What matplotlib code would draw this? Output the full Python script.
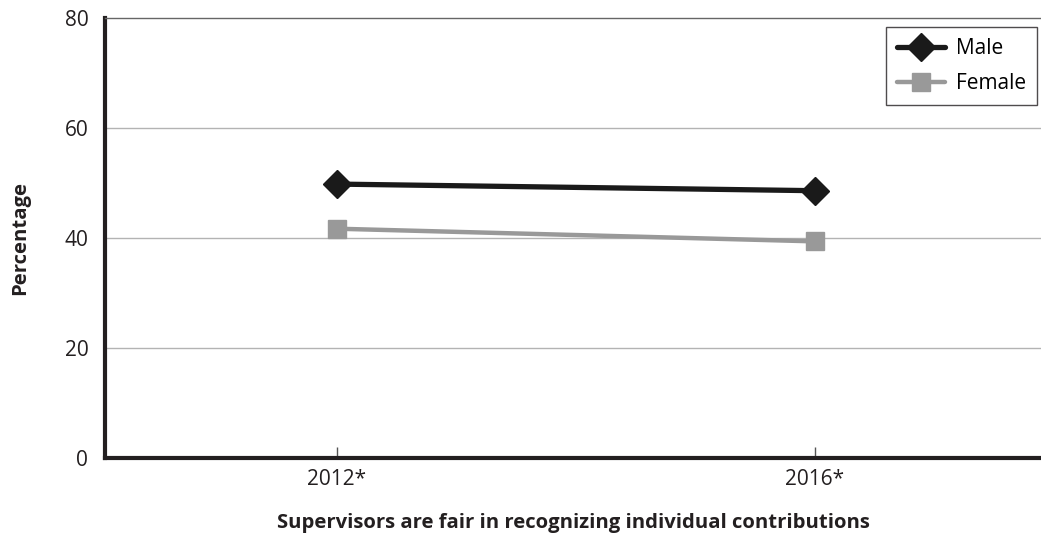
import numpy as np
from matplotlib import pyplot as plt

plt.rcParams['font.family'] = ['Open Sans', 'DejaVu Sans']

# data
years = ['2012*', '2016*']
male = [49.8, 48.6]
female = [41.7, 39.4]
yticks = [0, 20, 40, 60, 80]

fig = plt.figure(figsize=(10.41, 5.38), dpi=100)
ax = fig.add_axes([0.1009, 0.148, 0.8991, 0.819])

x = np.arange(len(years))
ax.plot(x, male, color='#1a1a1a', lw=3.8, marker='D', markersize=14,
        solid_capstyle='round', label='Male', zorder=4)
ax.plot(x, female, color='#999999', lw=3.2, marker='s', markersize=13.5,
        solid_capstyle='round', label='Female', zorder=3)

ax.set_xlim(-0.485, 1.473)
ax.set_ylim(0, 80)
ax.set_yticks(yticks)
ax.set_xticks(x)
ax.set_xticklabels(years)

# grid
for v in yticks[1:-1]:
    ax.axhline(v, color='#b3b3b3', lw=1, zorder=1)

ax.spines['right'].set_visible(False)
ax.spines['top'].set_color('#666666')
ax.spines['top'].set_linewidth(1)
ax.spines['left'].set_color('#231f20')
ax.spines['left'].set_linewidth(3)
ax.spines['bottom'].set_color('#231f20')
ax.spines['bottom'].set_linewidth(3)

ax.tick_params(axis='y', length=0, pad=12, labelsize=15, labelcolor='#231f20')
ax.tick_params(axis='x', direction='in', length=8, width=1, color='#555555',
               pad=8, labelsize=15, labelcolor='#231f20')

ax.set_ylabel('Percentage', fontsize=14.6, fontweight='bold', color='#231f20')
ax.yaxis.set_label_coords(-0.08, 0.5)
ax.set_xlabel('Supervisors are fair in recognizing individual contributions',
              fontsize=14.6, fontweight='bold', color='#231f20')
ax.xaxis.set_label_coords(0.5, -0.125)

leg = ax.legend(loc='upper right', bbox_to_anchor=(0.996, 0.979), borderaxespad=0,
                fontsize=15, frameon=True, fancybox=False, handlelength=2.3,
                borderpad=0.55, labelspacing=0.65, handletextpad=0.5)
leg.get_frame().set_edgecolor('#231f20')
leg.get_frame().set_linewidth(1)

fig.savefig('out.png', dpi=100)
